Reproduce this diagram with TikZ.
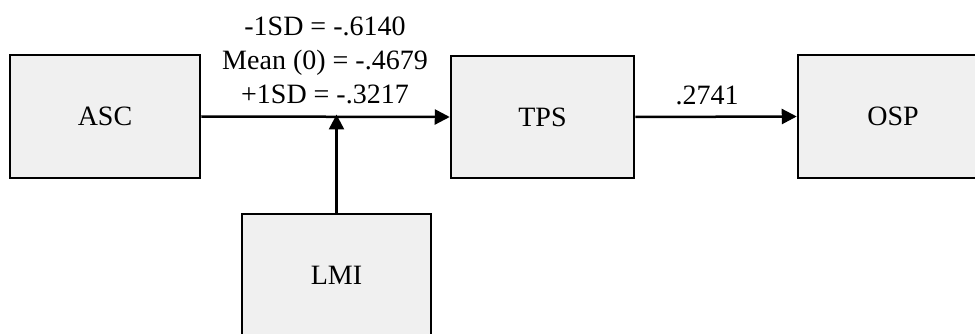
\documentclass[tikz,border=0pt]{standalone}
\usepackage{fontspec}
\setmainfont{Liberation Serif}
\usetikzlibrary{arrows.meta}

\tikzset{
    varbox/.style={draw, line width=2.5pt, fill=black!6, inner sep=0pt,
        minimum width=190pt, minimum height=123pt},
    path/.style={line width=2.5pt, -{Triangle[length=15pt,width=15pt]}}
}

\begin{document}
\begin{tikzpicture}[x=1pt, y=-1pt, font=\fontsize{28}{34}\selectfont]
    \clip (0,0) rectangle (975,334);
    \useasboundingbox (0,0) rectangle (975,334);

    \node[varbox] (asc) at (105, 116.5) {ASC};
    \node[varbox, minimum width=183pt, minimum height=122pt] (tps) at (542.5, 117) {TPS};
    \node[varbox] (osp) at (893, 116.5) {OSP};
    \node[varbox, minimum width=189pt] (lmi) at (336.5, 275.5) {LMI};

    \coordinate (mod) at (lmi.north |- asc.east);

    \draw[path] (asc.east) -- (tps.west);
    \draw[path] (lmi.north) -- ([yshift=2pt]mod);
    \draw[path] (tps.east) -- (osp.west)
        node[pos=0.445, above=7pt] (b) {.2741};

    \node[align=center, inner sep=0pt] (slopes) at (325, 60)
        {-1SD = -.6140\\Mean (0) = -.4679\\+1SD = -.3217};
\end{tikzpicture}
\end{document}
